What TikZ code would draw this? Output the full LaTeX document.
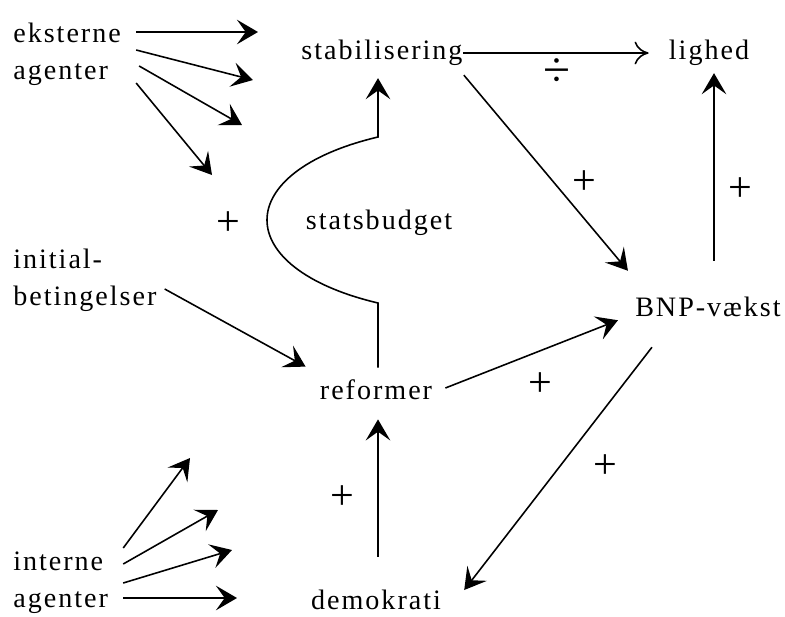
\documentclass[tikz,border=0pt]{standalone}
\usepackage{fontspec}
\setmainfont[LetterSpace=7]{Liberation Serif}
\usetikzlibrary{arrows.meta}

\tikzset{
  lbl/.style={inner sep=0pt, font=\fontsize{16}{21}\selectfont},
  sgn/.style={inner sep=0pt, font=\fontsize{24}{24}\selectfont},
  arr/.style={line width=0.9pt, -{Stealth[length=12pt,width=14pt,inset=5pt]}},
}

\begin{document}
\begin{tikzpicture}[x=0.02cm,y=-0.02cm]
    \useasboundingbox (0,0) rectangle (785,616);
    \node[lbl,anchor=west,align=left] (ekst) at (13,54) {eksterne\\agenter};
    \node[lbl,anchor=west,align=left] (init) at (13,280) {initial-\\betingelser};
    \node[lbl,anchor=west,align=left] (inte) at (13,583) {interne\\agenter};
    \node[lbl] (stab) at (382,53) {stabilisering};
    \node[lbl] (lighed) at (709,53) {lighed};
    \node[lbl] (budget) at (379,223) {statsbudget};
    \node[lbl] (bnp) at (708,307) {BNP-vækst};
    \node[lbl] (reform) at (376,390) {reformer};
    \node[lbl] (demo) at (376,600) {demokrati};
    \node[inner sep=0pt,font=\fontsize{28}{28}\selectfont] (minus) at (557,73) {÷};
    \node[sgn] (p1) at (584,183) {+};
    \node[sgn] (p2) at (740,190) {+};
    \node[sgn] (p3) at (228,224) {+};
    \node[sgn] (p4) at (540,385) {+};
    \node[sgn] (p5) at (605,467) {+};
    \node[sgn] (p6) at (342,498) {+};
    \coordinate (e1) at (258,32);
    \coordinate (e2) at (253,80);
    \coordinate (e3) at (242,125);
    \coordinate (e4) at (212,175);
    \coordinate (i1) at (190,458);
    \coordinate (i2) at (218,510);
    \coordinate (i3) at (232,550);
    \coordinate (i4) at (237,598);
    \foreach\i/\dx/\dy in {1/15/-22,2/15/-4,3/18/12,4/15/29}
      \draw[arr] ([shift={(\dx,\dy)}]ekst.east) -- (e\i);
    \foreach\i/\dy in {1/-35,2/-19,3/0,4/15}
      \draw[arr] ([shift={(15,\dy)}]inte.east) -- (i\i);
    \draw[line width=0.9pt,-{To[length=8pt,width=13pt]},shorten >=0.4cm] (stab.east) -- (lighed.west);
    \draw[arr] ([shift={(1,9)}]stab.south east) -- ([shift={(-7,-26)}]bnp.north west);
    \draw[arr] ([shift={(6,-36)}]bnp.north) -- ([shift={(5,7)}]lighed.south);
    \draw[arr] ([shift={(2,-12)}]reform.north) -- (378,303)
      .. controls (230,268) and (230,172) .. (378,137) -- ([shift={(-4,12)}]stab.south);
    \draw[arr] ([shift={(8,9)}]init.east) -- ([shift={(-14,-13)}]reform.north west);
    \draw[arr] ([shift={(13,-2)}]reform.east) -- ([shift={(-17,3)}]bnp.south west);
    \draw[arr] ([shift={(17,30)}]bnp.south west) -- ([shift={(23,-10)}]demo.east);
    \draw[arr] ([shift={(2,-33)}]demo.north) -- ([shift={(2,19)}]reform.south);
\end{tikzpicture}
\end{document}
